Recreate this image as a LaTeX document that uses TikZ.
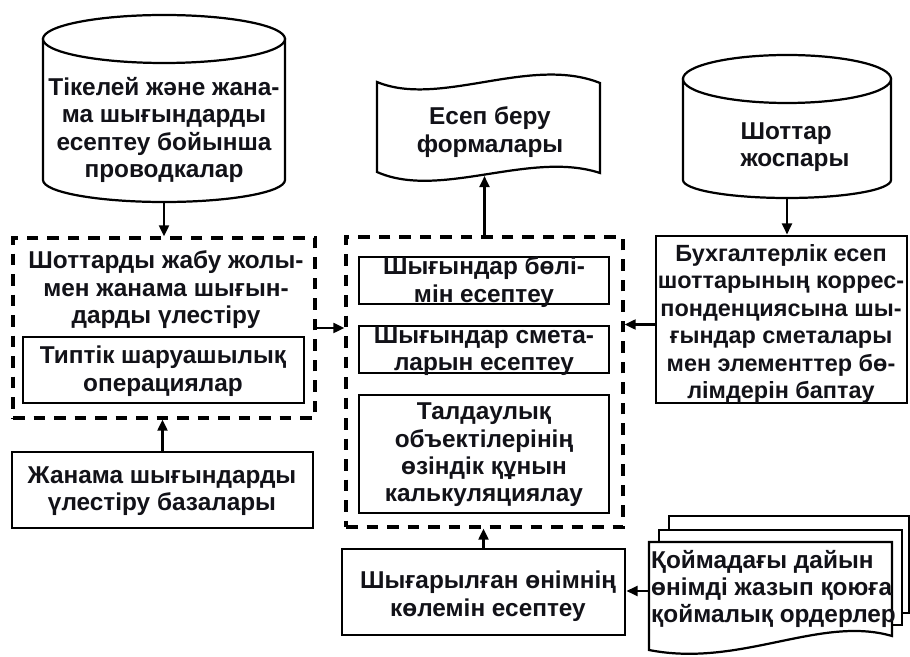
\documentclass[tikz,border=0pt]{standalone}
\usepackage{fontspec}
\setmainfont{Liberation Sans}
\usetikzlibrary{arrows.meta,fit,calc}
\definecolor{ink}{HTML}{121218}
\begin{document}
\begin{tikzpicture}[x=0.03cm,y=-0.03cm,
  txt/.style={font=\fontsize{20.8}{23.4}\selectfont\bfseries, align=center, inner sep=0pt, text=ink},
  smalltxt/.style={txt, font=\fontsize{20}{23.4}\selectfont\bfseries},
  solidbox/.style={draw, line width=2.5pt, inner sep=0pt},
  dashbox/.style={draw, line width=2.7pt, dash pattern=on 10pt off 7.5pt, inner sep=0pt},
  outline/.style={draw, line width=1.9pt, fill=white},
  hull/.style={inner sep=0pt},
  arr/.style={line width=2pt, -{Triangle[length=9.5pt,width=8.5pt]}}
]
\useasboundingbox (0,0) rectangle (910,657);

% --- left cylinder: postings for direct and indirect costs
\draw[outline] (43,39) -- (43,180) arc[start angle=180, end angle=0, x radius=121, y radius=22] -- (285,39) -- cycle;
\draw[outline] (164,39) ellipse[x radius=121, y radius=24];
\node[hull, fit={(43,15) (285,202)}] (cylL) {};
\node[txt] (cylLt) at (164,130) {Тікелей және жана-\\ма шығындарды\\есептеу бойынша\\проводкалар};

% --- right cylinder: chart of accounts
\draw[outline] (683,79) -- (683,180) arc[start angle=180, end angle=0, x radius=104, y radius=18] -- (891,79) -- cycle;
\draw[outline] (787,79) ellipse[x radius=104, y radius=24];
\node[hull, fit={(683,55) (891,198)}] (cylR) {};
\node[txt, align=left] (cylRt) at (795,147) {Шоттар\\жоспары};

% --- report forms (tape shape)
\draw[outline] (377,82) .. controls (440,108) and (530,55) .. (600,83) -- (600,173)
  .. controls (530,150) and (440,200) .. (377,172) -- cycle;
\node[hull, fit={(377,75) (600,185)}] (forms) {};
\coordinate (formsTip) at (482,176);
\node[txt] (formsT) at (490,132) {Есеп беру\\формалары};

% --- left dashed group
\node[dashbox, fit={(13,238) (315,418)}] (dashL) {};
\node[txt] (dashLt) at (166,290) {Шоттарды жабу жолы-\\мен жанама шығын-\\дарды үлестіру};
\node[solidbox, fit={(23,337) (304,403)}] (typ) {};
\node[txt] (typT) at (163,371) {Типтік шаруашылық\\операциялар};

% --- allocation bases
\node[solidbox, fit={(12,452) (313,528)}] (bases) {};
\node[txt] (basesT) at (162,491) {Жанама шығындарды\\үлестіру базалары};

% --- middle dashed group
\node[dashbox, fit={(346,237) (623,527)}] (dashM) {};
\node[solidbox, fit={(359,257) (609,304)}] (m1) {};
\node[txt] (m1t) at (484,282) {Шығындар бөлі-\\мін есептеу};
\node[solidbox, fit={(359,326) (609,373)}] (m2) {};
\node[txt] (m2t) at (484,351) {Шығындар смета-\\ларын есептеу};
\node[solidbox, fit={(359,395) (609,513)}] (m3) {};
\node[txt] (m3t) at (484,455) {Талдаулық\\объектілерінің\\өзіндік құнын\\калькуляциялау};

% --- right box
\node[solidbox, fit={(656,236) (907,403)}] (rbox) {};
\node[smalltxt] (rboxT) at (781,324) {Бухгалтерлік есеп\\шоттарының коррес-\\понденциясына шы-\\ғындар сметалары\\мен элементтер бө-\\лімдерін баптау};

% --- output volume
\node[solidbox, fit={(342,549) (625,635)}] (prod) {};
\node[txt] (prodT) at (488,596) {Шығарылған өнімнің\\көлемін есептеу};

% --- stack of warehouse orders
\draw[outline] (669,516) rectangle (909,613);
\draw[outline] (659,530) rectangle (902,625);
\draw[outline] (649,542) -- (892,542) -- (892,636) .. controls (820,615) and (740,668) .. (649,650) -- cycle;
\node[hull, fit={(649,542) (892,640)}] (orders) {};
\node[txt, align=left, anchor=west] (ordersT) at (651,589) {Қоймадағы дайын\\өнімді жазып қоюға\\қоймалық ордерлер};

% --- connectors
\draw[arr] (cylL.south) -- (cylL.south |- dashL.north);
\draw[arr] (bases.north) -- (bases.north |- dashL.south);
\draw[arr] (dashL.east) -- (dashL.east -| dashM.west);
\draw[arr] (cylR.south) -- (cylR.south |- rbox.north);
\draw[arr] ($(rbox.west)+(0,5)$) -- ($(rbox.west -| dashM.east)+(0,5)$);
\draw[arr] (dashM.north) -- (dashM.north |- formsTip);
\draw[arr] (prod.north) -- (prod.north |- dashM.south);
\draw[arr] (orders.west) -- (orders.west -| prod.east);
\end{tikzpicture}
\end{document}
